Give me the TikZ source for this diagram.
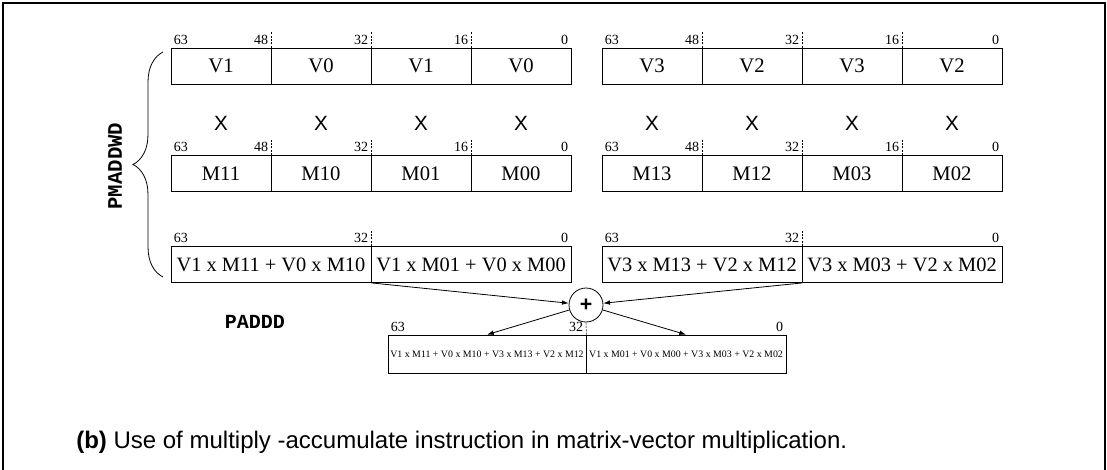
\documentclass[tikz,border=0pt]{standalone}
\usepackage{fontspec}
\setmainfont{Liberation Serif}
\setmonofont{Liberation Mono}
\newfontfamily\capfont{Liberation Sans}
\usetikzlibrary{arrows.meta,decorations.pathreplacing}
\tikzset{
    every node/.style={inner sep=0pt},
    cell/.style={rectangle, draw, line width=.6pt, minimum width=75pt, minimum height=27pt, font=\fontsize{15.5}{18}\selectfont},
    wide/.style={cell, minimum width=150pt, font=\fontsize{15.3}{18}\selectfont},
    bit/.style={draw=none, inner sep=2.2pt, font=\fontsize{10.5}{12}\selectfont},
    hi/.style={label={[bit, anchor=south east]north east:#1}},
    lo/.style={label={[bit, anchor=south west]north west:#1}},
    times/.style={font=\capfont\fontsize{15.5}{18}\selectfont},
    tick/.style={dash pattern=on 1.5pt off 1pt, line width=.4pt},
    arr/.style={-{Latex[length=5pt,width=3.5pt]}, line width=.6pt}
}

\begin{document}
\begin{tikzpicture}[x=.75pt, y=-.75pt]
    \useasboundingbox (0,0) rectangle (1107,469);
    \draw[line width=1.5pt] (3,480) -- (3,3) -- (1105,3) -- (1105,480);

    % left half
    \node[cell, lo=63, hi=48] (v1) at (221,66) {V1};
    \node[cell, hi=32] (v2) at (321,66) {V0};
    \node[cell, hi=16] (v3) at (421,66) {V1};
    \node[cell, hi=0] (v4) at (521,66) {V0};

    \node[times] (x1) at (221,123) {X};
    \node[times] (x2) at (321,123) {X};
    \node[times] (x3) at (421,123) {X};
    \node[times] (x4) at (521,123) {X};

    \node[cell, lo=63, hi=48] (m1) at (221,173.5) {M11};
    \node[cell, hi=32] (m2) at (321,173.5) {M10};
    \node[cell, hi=16] (m3) at (421,173.5) {M01};
    \node[cell, hi=0] (m4) at (521,173.5) {M00};

    \node[wide, lo=63, hi=32] (s1) at (271,264.5) {V1 x M11 + V0 x M10};
    \node[wide, hi=0] (s2) at (471,264.5) {V1 x M01 + V0 x M00};

    % right half
    \node[cell, lo=63, hi=48] (v1r) at (652,66) {V3};
    \node[cell, hi=32] (v2r) at (752,66) {V2};
    \node[cell, hi=16] (v3r) at (852,66) {V3};
    \node[cell, hi=0] (v4r) at (952,66) {V2};

    \node[times] (x1r) at (652,123) {X};
    \node[times] (x2r) at (752,123) {X};
    \node[times] (x3r) at (852,123) {X};
    \node[times] (x4r) at (952,123) {X};

    \node[cell, lo=63, hi=48] (m1r) at (652,173.5) {M13};
    \node[cell, hi=32] (m2r) at (752,173.5) {M12};
    \node[cell, hi=16] (m3r) at (852,173.5) {M03};
    \node[cell, hi=0] (m4r) at (952,173.5) {M02};

    \node[wide, lo=63, hi=32] (s1r) at (702,264.5) {V3 x M13 + V2 x M12};
    \node[wide, hi=0] (s2r) at (902,264.5) {V3 x M03 + V2 x M02};

    % sum
    \node[circle, draw, line width=.6pt, minimum size=25.5pt, font=\capfont\bfseries\fontsize{16}{18}\selectfont] (p) at (586,305) {+};
    \node[cell, minimum width=148.5pt, minimum height=28.5pt, font=\fontsize{7.4}{8}\selectfont, lo=63, hi=32] (t1) at (487,354) {V1 x M11 + V0 x M10 + V3 x M13 + V2 x M12};
    \node[cell, minimum width=150pt, minimum height=28.5pt, font=\fontsize{7.4}{8}\selectfont, hi=0] (t2) at (686,354) {V1 x M01 + V0 x M00 + V3 x M03 + V2 x M02};

    \draw[arr] (s1.south east) -- (p);
    \draw[arr] (s1r.south east) -- (p);
    \draw[arr] (p) -- (t1.north);
    \draw[arr] (p) -- (t2.north);

    % bit ticks
    \draw[tick] (v1.north east) -- ++(0,-16);
    \draw[tick] (v2.north east) -- ++(0,-16);
    \draw[tick] (v3.north east) -- ++(0,-16);
    \draw[tick] (m1.north east) -- ++(0,-16);
    \draw[tick] (m2.north east) -- ++(0,-16);
    \draw[tick] (m3.north east) -- ++(0,-16);
    \draw[tick] (v1r.north east) -- ++(0,-16);
    \draw[tick] (v2r.north east) -- ++(0,-16);
    \draw[tick] (v3r.north east) -- ++(0,-16);
    \draw[tick] (m1r.north east) -- ++(0,-16);
    \draw[tick] (m2r.north east) -- ++(0,-16);
    \draw[tick] (m3r.north east) -- ++(0,-16);
    \draw[tick] (s1.north east) -- ++(0,-16);
    \draw[tick] (s1r.north east) -- ++(0,-16);
    \draw[tick] (t1.north east) -- (p.south);

    % brace and instruction names
    \coordinate (bb) at (163,277);
    \coordinate (bt) at (163,52);
    \draw[decorate, decoration={brace, amplitude=22.5pt}, line width=.6pt] (bb) -- (bt);
    \node[rotate=90, font=\ttfamily\bfseries\fontsize{15.5}{18}\selectfont] (pmaddwd) at (115,166) {PMADDWD};
    \node[font=\ttfamily\bfseries\fontsize{15}{18}\selectfont] (paddd) at (255,322) {PADDD};

    \node[anchor=west, font=\capfont\fontsize{18}{20}\selectfont] (cap) at (76,442) {\textbf{(b)} Use of multiply -accumulate instruction in matrix-vector multiplication.};
\end{tikzpicture}
\end{document}
